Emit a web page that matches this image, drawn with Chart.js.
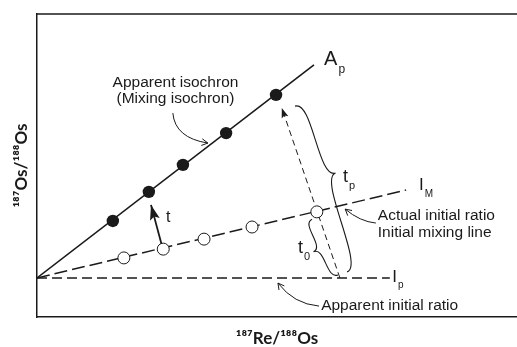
<!DOCTYPE html>
<html>
<head>
<meta charset="utf-8">
<script src="https://cdn.jsdelivr.net/npm/chart.js@4.4.0/dist/chart.umd.min.js"></script>
<style>
  html, body { margin: 0; padding: 0; background: #fff; }
  #wrap { width: 517px; height: 347px; }
</style>
</head>
<body>
<div id="wrap"><canvas id="chart"></canvas></div>
<script>
// values (arbitrary ratio units, no ticks on the original)
const isochronX = [1.58, 2.33, 3.04, 3.94, 4.98];
const isochronY = [3.17, 4.13, 5.02, 6.07, 7.33];
const mixingX = [1.81, 2.63, 3.48, 4.48, 5.83];
const mixingY = [1.95, 2.24, 2.57, 2.97, 3.47];

const apLineX = [0, 5.77];
const apLineY = [1.29, 8.32];
const imLineX = [0, 7.69];
const imLineY = [1.29, 4.19];
const ipLineX = [0, 7.35];
const ipLineY = [1.29, 1.29];

// arrows: tail first, tip last
const tpArrowX = [6.31, 5.10];
const tpArrowY = [1.29, 6.90];
const tArrowX = [2.60, 2.375];
const tArrowY = [2.37, 3.70];

// braces: end, cusp, end
const tpBrace = [[5.375, 6.96], [6.22, 4.75], [6.46, 1.49]];
const t0Brace = [[5.73, 3.23], [5.76, 2.15], [6.27, 1.39]];

// thin pointers: start, control, tip
const isoPointer = [[2.83, 6.73], [2.875, 5.91], [3.56, 5.74]];
const actualPointer = [[7.06, 3.10], [6.73, 3.15], [6.42, 3.56]];
const apparentPointer = [[5.875, 0.36], [5.35, 0.43], [5.02, 1.12]];

function pts(xs, ys) {
    return xs.map((v, i) => ({x: v, y: ys[i]}));
}

const ink = '#1a1a1a';
const font = '"Liberation Sans", Arial, sans-serif';

// labels placed in data units
const notes = [
    {text: 'Apparent isochron', x: 2.885, y: 7.59, size: 15.5, align: 'center'},
    {text: '(Mixing isochron)', x: 2.885, y: 7.06, size: 15.5, align: 'center'},
    {text: 'Actual initial ratio', x: 7.10, y: 3.20, size: 15.5},
    {text: 'Initial mixing line', x: 7.10, y: 2.64, size: 15.5},
    {text: 'Apparent initial ratio', x: 5.92, y: 0.23, size: 15.5},
    {text: 'A', sub: 'p', x: 5.98, y: 8.32, size: 20},
    {text: 'I', sub: 'M', x: 7.96, y: 4.19, size: 17},
    {text: 'I', sub: 'p', x: 7.40, y: 1.155, size: 17},
    {text: 't', x: 2.69, y: 3.135, size: 16},
    {text: 't', sub: 'p', x: 6.375, y: 4.455, size: 18},
    {text: 't', sub: '0', x: 5.44, y: 2.11, size: 18}
];

const sketch = {
    id: 'sketch',
    afterDatasetsDraw(chart) {
        const {ctx, chartArea, scales} = chart;
        const P = p => [scales.x.getPixelForValue(p[0]), scales.y.getPixelForValue(p[1])];
        ctx.save();

        // top edge of frame
        ctx.strokeStyle = ink;
        ctx.lineWidth = 1.5;
        ctx.beginPath();
        ctx.moveTo(chartArea.left, chartArea.top);
        ctx.lineTo(chartArea.right, chartArea.top);
        ctx.stroke();

        // filled arrowheads at the end of arrow datasets
        chart.data.datasets.forEach((ds, i) => {
            if (!ds.arrowHead) return;
            const el = chart.getDatasetMeta(i).data;
            const a = el[el.length - 2], b = el[el.length - 1];
            const ang = Math.atan2(b.y - a.y, b.x - a.x);
            const L = ds.arrowHead[0], W = ds.arrowHead[1];
            ctx.save();
            ctx.translate(b.x, b.y);
            ctx.rotate(ang);
            ctx.fillStyle = ink;
            ctx.beginPath();
            ctx.moveTo(0, 0);
            ctx.lineTo(-L, -W / 2);
            ctx.lineTo(-L * 0.8, 0);
            ctx.lineTo(-L, W / 2);
            ctx.closePath();
            ctx.fill();
            ctx.restore();
        });

        // curly braces
        ctx.lineWidth = 1.1;
        [tpBrace, t0Brace].forEach(br => {
            const e1 = P(br[0]), c = P(br[1]), e2 = P(br[2]);
            let dx = e2[0] - e1[0], dy = e2[1] - e1[1];
            const len = Math.hypot(dx, dy);
            let nx = -dy / len, ny = dx / len;
            let h = (c[0] - e1[0]) * nx + (c[1] - e1[1]) * ny;
            if (h < 0) { nx = -nx; ny = -ny; h = -h; }
            ctx.beginPath();
            [e1, e2].forEach(e => {
                ctx.moveTo(e[0], e[1]);
                ctx.bezierCurveTo(e[0] + nx * h, e[1] + ny * h,
                                  c[0] - nx * h, c[1] - ny * h, c[0], c[1]);
            });
            ctx.stroke();
        });

        // thin curved pointers with open heads
        ctx.lineWidth = 1;
        [isoPointer, actualPointer, apparentPointer].forEach(pt => {
            const s = P(pt[0]), k = P(pt[1]), t = P(pt[2]);
            ctx.beginPath();
            ctx.moveTo(s[0], s[1]);
            ctx.quadraticCurveTo(k[0], k[1], t[0], t[1]);
            ctx.stroke();
            const ang = Math.atan2(t[1] - k[1], t[0] - k[0]);
            ctx.beginPath();
            [-0.5, 0.5].forEach(d => {
                ctx.moveTo(t[0], t[1]);
                ctx.lineTo(t[0] - 7 * Math.cos(ang + d), t[1] - 7 * Math.sin(ang + d));
            });
            ctx.stroke();
        });

        // text labels
        ctx.fillStyle = ink;
        ctx.textBaseline = 'alphabetic';
        notes.forEach(n => {
            const [x, y] = P([n.x, n.y]);
            ctx.font = n.size + 'px ' + font;
            ctx.textAlign = n.align || 'left';
            ctx.fillText(n.text, x, y);
            if (n.sub) {
                const w = ctx.measureText(n.text).width;
                ctx.font = Math.round(n.size * 0.6) + 'px ' + font;
                ctx.textAlign = 'left';
                ctx.fillText(n.sub, x + w + 1, y + n.size * 0.38);
            }
        });
        ctx.restore();
    }
};

new Chart(document.getElementById('chart'), {
    type: 'scatter',
    data: {
        datasets: [
            {
                label: 'Apparent isochron points',
                data: pts(isochronX, isochronY),
                pointRadius: 6.2,
                pointBackgroundColor: ink,
                pointBorderColor: ink,
                pointBorderWidth: 0
            },
            {
                label: 'Mixing points',
                data: pts(mixingX, mixingY),
                pointRadius: 6,
                pointBackgroundColor: '#fff',
                pointBorderColor: ink,
                pointBorderWidth: 1
            },
            {
                label: 't',
                data: pts(tArrowX, tArrowY),
                showLine: true,
                borderColor: ink,
                borderWidth: 1.8,
                pointRadius: 0,
                arrowHead: [15, 10]
            },
            {
                label: 'tp',
                data: pts(tpArrowX, tpArrowY),
                showLine: true,
                borderColor: ink,
                borderWidth: 1,
                borderDash: [6, 4],
                pointRadius: 0,
                arrowHead: [10, 7]
            },
            {
                label: 'Ap',
                data: pts(apLineX, apLineY),
                showLine: true,
                borderColor: ink,
                borderWidth: 1.6,
                pointRadius: 0
            },
            {
                label: 'IM',
                data: pts(imLineX, imLineY),
                showLine: true,
                borderColor: ink,
                borderWidth: 1.5,
                borderDash: [13, 5],
                pointRadius: 0
            },
            {
                label: 'Ip',
                data: pts(ipLineX, ipLineY),
                showLine: true,
                borderColor: ink,
                borderWidth: 1.5,
                borderDash: [10, 5],
                pointRadius: 0
            }
        ]
    },
    options: {
        responsive: true,
        maintainAspectRatio: false,
        animation: false,
        layout: { autoPadding: false, padding: { top: 14, right: 0, left: 0, bottom: 0 } },
        plugins: {
            legend: { display: false },
            tooltip: { enabled: false }
        },
        scales: {
            x: {
                type: 'linear',
                min: 0,
                max: 10,
                grid: { display: false },
                border: { display: true, color: ink, width: 1.5 },
                ticks: { display: false },
                afterFit(s) { s.height = 30; },
                title: {
                    display: true,
                    text: '¹⁸⁷Re/¹⁸⁸Os',
                    color: ink,
                    font: { family: 'Lato', weight: 'bold', size: 17, lineHeight: 1 },
                    padding: 0
                }
            },
            y: {
                type: 'linear',
                min: 0,
                max: 10,
                grid: { display: false },
                border: { display: true, color: ink, width: 1.5 },
                ticks: { display: false },
                afterFit(s) { s.width = 37; },
                title: {
                    display: true,
                    text: '¹⁸⁷Os/¹⁸⁸Os',
                    color: ink,
                    font: { family: 'Lato', weight: 'bold', size: 17, lineHeight: 1 },
                    padding: { top: 13, bottom: 0 }
                }
            }
        }
    },
    plugins: [sketch]
});
</script>
</body>
</html>
